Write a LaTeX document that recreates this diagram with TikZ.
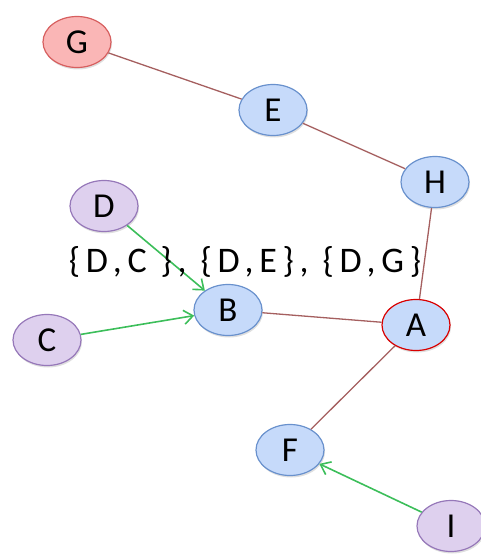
\documentclass[tikz,border=0pt]{standalone}
\definecolor{nodeblue}{RGB}{198, 218, 250}
\definecolor{lineblue}{RGB}{105, 145, 205}
\definecolor{nodered}{RGB}{250, 182, 182}
\definecolor{linered}{RGB}{215, 95, 95}
\definecolor{nodepurple}{RGB}{222, 208, 238}
\definecolor{linepurple}{RGB}{150, 120, 185}
\definecolor{edgebrown}{RGB}{165, 95, 95}
\definecolor{arrowgreen}{RGB}{60, 190, 90}
\usepackage{fontspec}
\setmainfont{Carlito}
\usepackage{tikz}
\usetikzlibrary{shapes.geometric, arrows.meta, shadows}

\tikzset{
  vertex/.style={ellipse, minimum width=68pt, minimum height=51pt, inner sep=0pt,
    line width=1.2pt, font=\fontsize{35}{37}\selectfont,
    drop shadow={shadow xshift=1pt, shadow yshift=-2pt, opacity=0.25}},
  bluevertex/.style={vertex, draw=lineblue, fill=nodeblue},
  redvertex/.style={vertex, draw=linered, fill=nodered},
  purplevertex/.style={vertex, draw=linepurple, fill=nodepurple},
  edge/.style={draw=edgebrown, line width=1.3pt},
  flow/.style={draw=arrowgreen, line width=1.6pt, -{Straight Barb[length=9pt, width=14pt]}}
}

\begin{document}
\begin{tikzpicture}[x=1pt, y=-1pt]
  \useasboundingbox (0,0) rectangle (480,559);

  % vertices
  \node[redvertex] (G) at (77,42) {G};
  \node[bluevertex] (E) at (273,110) {E};
  \node[bluevertex] (H) at (435,182) {H};
  \node[purplevertex] (D) at (104,206) {D};
  \node[bluevertex] (B) at (228,310) {B};
  \node[bluevertex, draw=red!85!black] (A) at (416,325) {A};
  \node[purplevertex] (C) at (47,340) {C};
  \node[bluevertex] (F) at (290,450) {F};
  \node[purplevertex] (I) at (451,526) {I};

  % undirected edges
  \draw[edge] (G) -- (E);
  \draw[edge] (E) -- (H);
  \draw[edge] (H) -- (A);
  \draw[edge] (B) -- (A);
  \draw[edge] (A) -- (F);

  % arcs
  \draw[flow] (D) -- (B);
  \draw[flow] (C) -- (B);
  \draw[flow] (I) -- (F);

  % label
  \node[font=\fontsize{36}{38}\selectfont\addfontfeatures{LetterSpace=16}] (sets) at (245,262)
    {\{D,C \}, \{D,E\}, \{D,G\}};
\end{tikzpicture}
\end{document}
